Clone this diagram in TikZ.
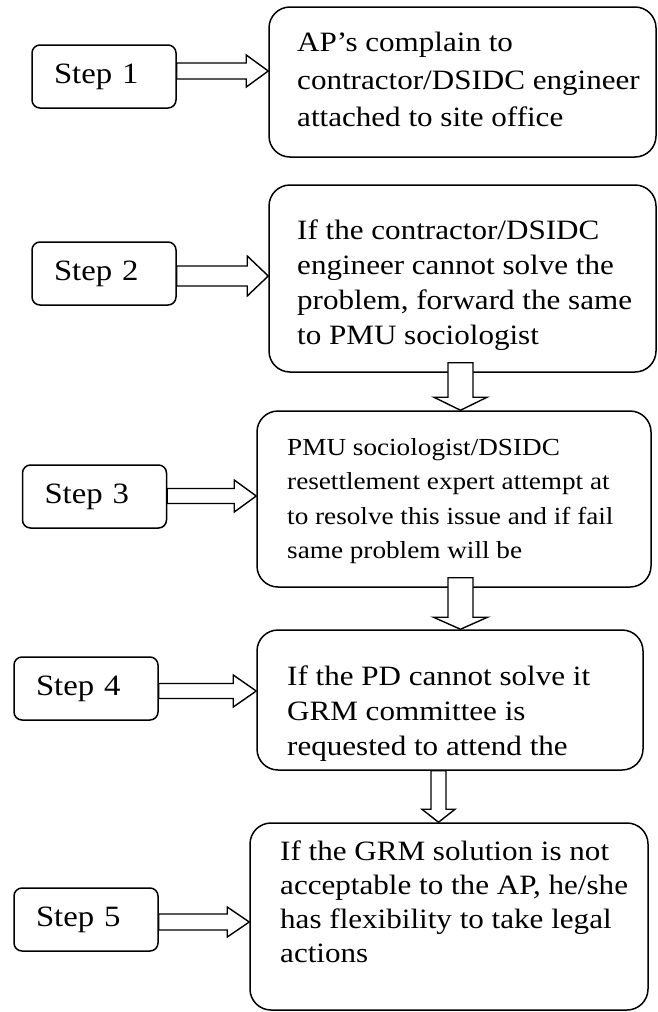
\documentclass[tikz,border=0pt]{standalone}
\usepackage{fontspec}
\setmainfont{Liberation Serif}[FakeStretch=1.11]
\usetikzlibrary{calc}
\newcommand{\harrow}[6]{% from, to, y, shaft half, head half, head length
  \coordinate (hs) at (#1.east |- 0,#3);
  \coordinate (he) at (#2.west |- 0,#3);
  \draw[blockarrow] ([shift={(0,-#4)}]hs) -- ([shift={(-#6,-#4)}]he) -- ([shift={(-#6,-#5)}]he) -- (he)
     -- ([shift={(-#6,#5)}]he) -- ([shift={(-#6,#4)}]he) -- ([shift={(0,#4)}]hs) -- cycle;}
\newcommand{\varrow}[7]{% from, to, x, shaft half, head half, head length, start offset
  \coordinate (vs) at (#1.south -| #3,0);
  \coordinate (ve) at (#2.north -| #3,0);
  \draw[blockarrow] ([shift={(-#4,-#7)}]vs) -- ([shift={(-#4,-#6)}]ve) -- ([shift={(-#5,-#6)}]ve) -- (ve)
     -- ([shift={(#5,-#6)}]ve) -- ([shift={(#4,-#6)}]ve) -- ([shift={(#4,-#7)}]vs) -- cycle;}
\begin{document}
\begin{tikzpicture}[x=1pt,y=-1pt,
  stepbox/.style={draw, line width=1.5pt, rounded corners=8pt, inner xsep=22pt, inner ysep=0pt,
     text width=100pt, align=left, minimum height=63pt, font=\fontsize{29.5}{35}\selectfont},
  bigbox/.style={draw, line width=1.5pt, rounded corners=21pt, inner sep=0pt},
  boxtext/.style={anchor=north west, inner sep=0pt, align=left, font=\fontsize{28}{#1}\selectfont},
  boxtext/.default=35,
  blockarrow/.style={draw, line width=1.4pt, fill=white, line join=miter}]
\useasboundingbox (0,0) rectangle (657,1012);
\fill[white] (0,0) rectangle (657,1012);

% big boxes
\node[bigbox, minimum width=387pt, minimum height=150pt] (b1) at (462.5,82) {};
\node[bigbox, minimum width=387pt, minimum height=187pt] (b2) at (462.5,278.5) {};
\node[bigbox, minimum width=394pt, minimum height=176pt] (b3) at (454,499) {};
\node[bigbox, minimum width=386pt, minimum height=140pt] (b4) at (450,700) {};
\node[bigbox, minimum width=398pt, minimum height=187pt] (b5) at (449,916.5) {};

% texts
\node[boxtext=37.5] (t1) at (297,32) {AP’s complain to\\contractor/DSIDC engineer\\attached to site office};
\node[boxtext=35] (t2) at (297,220) {If the contractor/DSIDC\\engineer cannot solve the\\problem, forward the same\\to PMU sociologist};
\node[boxtext=34.5, font=\fontsize{24.5}{34.5}\selectfont] (t3) at (287,438) {PMU sociologist/DSIDC\\resettlement expert attempt at\\to resolve this issue and if fail\\same problem will be};
\node[boxtext=35] (t4) at (287,666) {If the PD cannot solve it\\GRM committee is\\requested to attend the};
\node[boxtext=34] (t5) at (280,841) {If the GRM solution is not\\acceptable to the AP, he/she\\has flexibility to take legal\\actions};

% step boxes
\node[stepbox] (s1) at (104,76.5) {Step 1};
\node[stepbox] (s2) at (104,273.5) {Step 2};
\node[stepbox] (s3) at (94.5,496.5) {Step 3};
\node[stepbox] (s4) at (86,688.5) {Step 4};
\node[stepbox] (s5) at (86,919.5) {Step 5};

% horizontal arrows
\harrow{s1}{b1}{71}{8}{16}{22}
\harrow{s2}{b2}{276}{10}{20}{21}
\harrow{s3}{b3}{496}{7.5}{16}{22}
\harrow{s4}{b4}{691}{7.5}{16}{23}
\harrow{s5}{b5}{922}{8}{15}{22}

% vertical arrows
\varrow{b2}{b3}{460.5}{12.5}{26.5}{13}{10}
\varrow{b3}{b4}{460.5}{12.5}{27}{12}{10}
\varrow{b4}{b5}{438.5}{7.5}{16.5}{13}{0}
\end{tikzpicture}
\end{document}
